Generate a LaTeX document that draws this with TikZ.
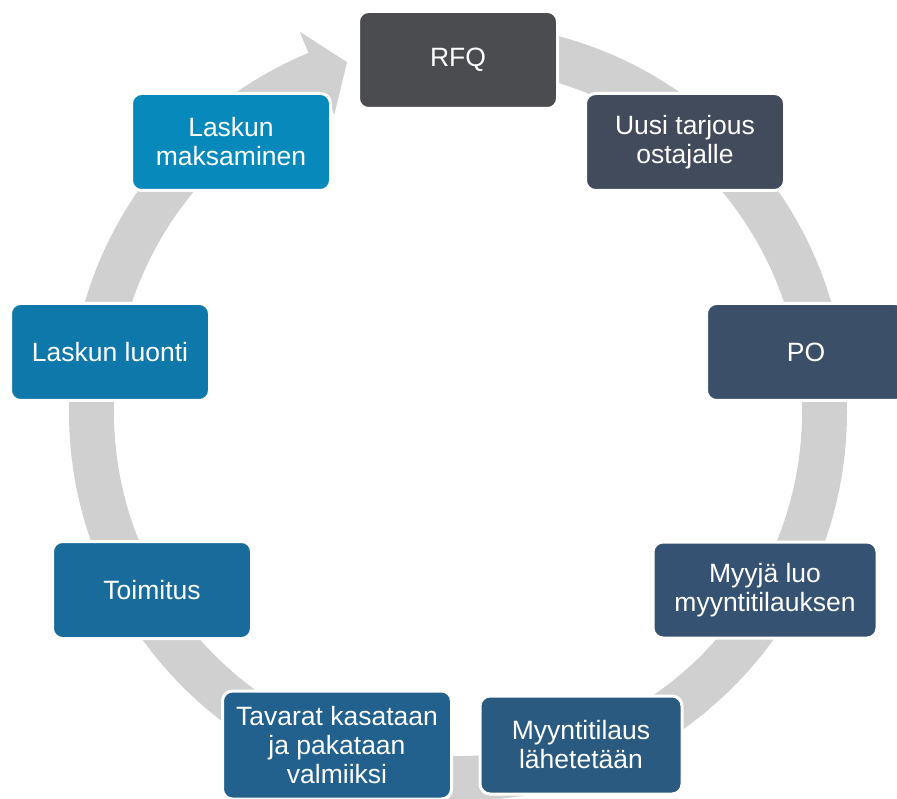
\documentclass[tikz,border=0pt]{standalone}
\usepackage{fontspec}
\setmainfont{Liberation Sans}
\begin{document}
\begin{tikzpicture}[x=1pt,y=1pt,
  stepbox/.style={rectangle, rounded corners=10pt, draw=white, line width=3pt,
    text=white, align=center, inner sep=0pt,
    font=\fontsize{26.5}{29}\selectfont,
    minimum width=199pt, minimum height=97pt},
  band/.style={fill=bandgray}]
\definecolor{bandgray}{HTML}{D0D0D0}
\definecolor{cA}{HTML}{4B4C50}
\definecolor{cB}{HTML}{424B5B}
\definecolor{cC}{HTML}{3C4F68}
\definecolor{cD}{HTML}{355273}
\definecolor{cE}{HTML}{2B5A80}
\definecolor{cF}{HTML}{22618D}
\definecolor{cG}{HTML}{196B9C}
\definecolor{cH}{HTML}{0F78AB}
\definecolor{cI}{HTML}{078ABB}
\useasboundingbox (0,0) rectangle (897,-799);
\clip (0,0) rectangle (897,-799);
% circular arrow band
\coordinate (ctr) at (458,-412);
\begin{scope}[shift={(ctr)}]
\fill[band] (90:389) arc[start angle=90, end angle=-247.4, radius=389]
  -- (-247.4:412) -- (-252.4:367) -- (-247.4:322) -- (-247.4:344)
  arc[start angle=-247.4, end angle=90, radius=344] -- cycle;
\end{scope}
% nodes
\node[stepbox, fill=cA] (rfq) at (458,-60) {RFQ};
\node[stepbox, fill=cB] (uusi) at (685,-142) {Uusi tarjous\\ostajalle};
\node[stepbox, fill=cC] (po) at (806,-352) {PO};
\node[stepbox, fill=cD, minimum width=224pt, minimum height=96pt] (myyja) at (765,-590) {Myyjä luo\\myyntitilauksen};
\node[stepbox, fill=cE, minimum width=202pt, minimum height=98pt] (myynti) at (581,-745) {Myyntitilaus\\lähetetään};
\node[stepbox, fill=cF, minimum width=229pt, minimum height=108pt] (tavarat) at (337,-745) {Tavarat kasataan\\ja pakataan\\valmiiksi};
\node[stepbox, fill=cG] (toimitus) at (152,-590) {Toimitus};
\node[stepbox, fill=cH] (luonti) at (110,-352) {Laskun luonti};
\node[stepbox, fill=cI] (maksu) at (231,-142) {Laskun\\maksaminen};
\end{tikzpicture}
\end{document}
